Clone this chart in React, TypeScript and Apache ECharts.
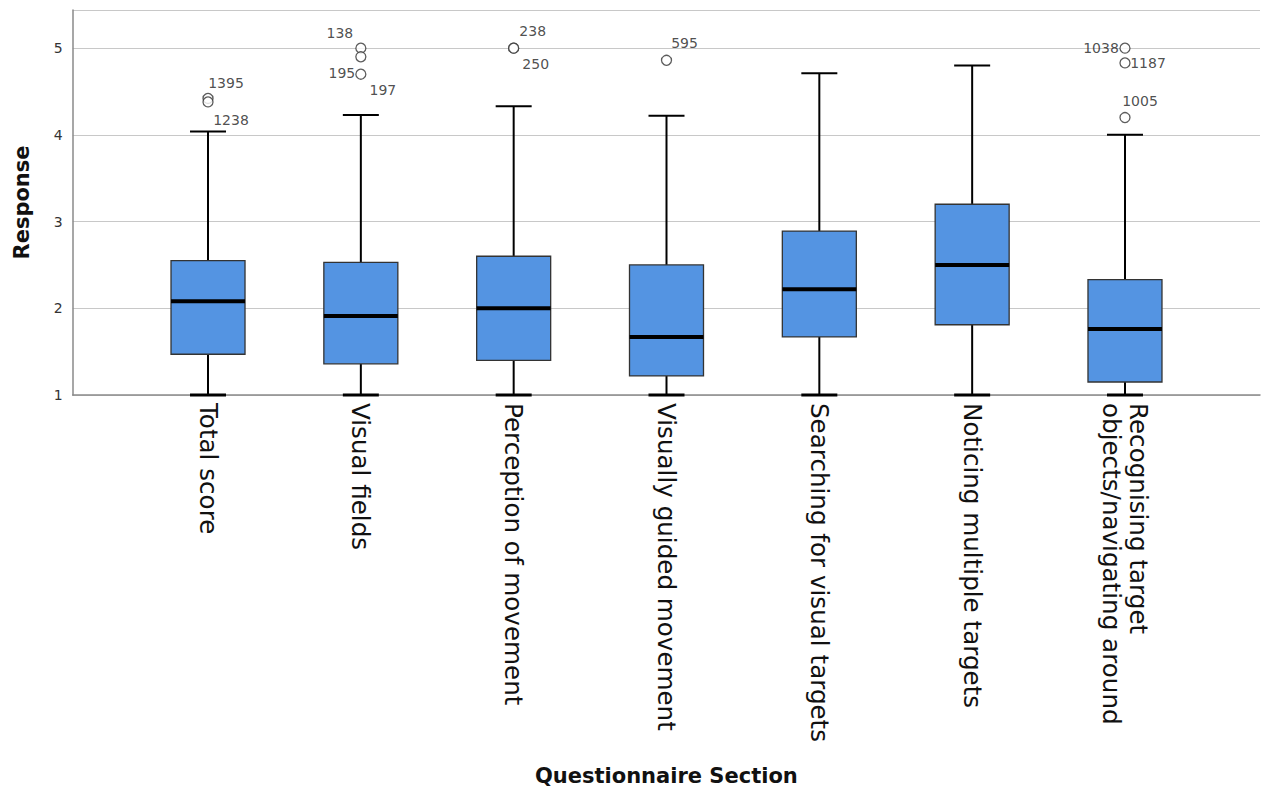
import React, { useEffect, useRef } from "react";
import * as echarts from "echarts";

const categories = [
  "Total score",
  "Visual fields",
  "Perception of movement",
  "Visually guided movement",
  "Searching for visual targets",
  "Noticing multiple targets",
  "Recognising target\nobjects/navigating around",
];
const whiskerLow = [1, 1, 1, 1, 1, 1, 1];
const q1 = [1.47, 1.36, 1.4, 1.22, 1.67, 1.81, 1.15];
const median = [2.08, 1.91, 2.0, 1.67, 2.22, 2.5, 1.76];
const q3 = [2.55, 2.53, 2.6, 2.5, 2.89, 3.2, 2.33];
const whiskerHigh = [4.04, 4.23, 4.33, 4.22, 4.71, 4.8, 4.0];

const outlierCategory = [0, 0, 1, 1, 1, 2, 2, 3, 6, 6, 6];
const outlierValue = [4.42, 4.38, 5.0, 4.9, 4.7, 5.0, 5.0, 4.86, 5.0, 4.83, 4.2];
const outlierId = ["1395", "1238", "138", "197", "195", "238", "250", "595", "1038", "1187", "1005"];
const outlierLabelOffset = [
  [18, -15], [23, 18], [-21, -15], [22, 33], [-19, -1], [19, -17], [22, 16], [18, -17], [-24, 0], [23, 0], [15, -17],
];

const yTickValues = [1, 2, 3, 4, 5];
const yMin = 1;
const yMax = 5.44;

export default function App() {
  const ref = useRef<HTMLDivElement>(null);
  useEffect(() => {
    if (!ref.current) return;
    const chart = echarts.init(ref.current, null, { renderer: "svg" });
    const boxData = categories.map((_, i) => [i, whiskerLow[i], q1[i], median[i], q3[i], whiskerHigh[i]]);
    const outData = outlierValue.map((v, i) => ({
      value: [outlierCategory[i], v],
      label: { formatter: outlierId[i], offset: outlierLabelOffset[i] },
    }));
    const option: any = {
      animation: false,
      backgroundColor: "#ffffff",
      grid: [
        { left: 72.7, right: 7, top: 10, bottom: 395 },
        { left: 131.6, right: 65.6, top: 10, bottom: 395 },
      ],
      xAxis: [
        {
          type: "value",
          gridIndex: 0,
          min: 0,
          max: 1,
          axisLine: { show: true, lineStyle: { color: "#8a8a8a", width: 1.5 } },
          axisTick: { show: false },
          axisLabel: { show: false },
          splitLine: { show: false },
          name: "Questionnaire Section",
          nameLocation: "middle",
          nameGap: 370,
          nameTextStyle: { fontSize: 21, fontWeight: "bold", color: "#111", fontFamily: "DejaVu Sans" },
        },
        {
          type: "category",
          gridIndex: 1,
          data: categories,
          axisLine: { show: false },
          axisTick: { show: false },
          axisLabel: {
            interval: 0,
            rotate: -90,
            fontSize: 24.6,
            lineHeight: 27,
            margin: 8,
            color: "#111",
            fontFamily: "DejaVu Sans",
          },
        },
      ],
      yAxis: [
        {
          type: "value",
          gridIndex: 0,
          min: yMin,
          max: yMax,
          interval: 1,
          axisLine: { show: true, lineStyle: { color: "#8a8a8a", width: 1.5 } },
          axisTick: { show: false },
          axisLabel: {
            fontSize: 14,
            color: "#333",
            margin: 10,
            fontFamily: "DejaVu Sans",
            formatter: (v: number) => (yTickValues.includes(v) ? String(v) : ""),
          },
          splitLine: { show: true, lineStyle: { color: "#c8c8c8", width: 1.2 } },
          name: "Response",
          nameLocation: "middle",
          nameGap: 40,
          nameTextStyle: { fontSize: 21, fontWeight: "bold", color: "#111", fontFamily: "DejaVu Sans" },
        },
        {
          type: "value",
          gridIndex: 1,
          min: yMin,
          max: yMax,
          show: false,
        },
      ],
      series: [
        {
          type: "custom",
          xAxisIndex: 1,
          yAxisIndex: 1,
          data: boxData,
          renderItem: (params: any, api: any) => {
            const idx = api.value(0);
            const pLow = api.coord([idx, api.value(1)]);
            const pQ1 = api.coord([idx, api.value(2)]);
            const pMed = api.coord([idx, api.value(3)]);
            const pQ3 = api.coord([idx, api.value(4)]);
            const pHigh = api.coord([idx, api.value(5)]);
            const cx = pLow[0];
            const halfBox = 37;
            const halfCap = 18;
            const black = { stroke: "#000", lineWidth: 2 };
            return {
              type: "group",
              children: [
                { type: "line", shape: { x1: cx, y1: pHigh[1], x2: cx, y2: pQ3[1] }, style: black },
                { type: "line", shape: { x1: cx, y1: pQ1[1], x2: cx, y2: pLow[1] }, style: black },
                { type: "line", shape: { x1: cx - halfCap, y1: pHigh[1], x2: cx + halfCap, y2: pHigh[1] }, style: black },
                { type: "line", shape: { x1: cx - halfCap, y1: pLow[1], x2: cx + halfCap, y2: pLow[1] }, style: { stroke: "#000", lineWidth: 3 } },
                {
                  type: "rect",
                  shape: { x: cx - halfBox, y: pQ3[1], width: halfBox * 2, height: pQ1[1] - pQ3[1] },
                  style: { fill: "#5494e2", stroke: "#333", lineWidth: 1.3 },
                },
                { type: "line", shape: { x1: cx - halfBox, y1: pMed[1], x2: cx + halfBox, y2: pMed[1] }, style: { stroke: "#000", lineWidth: 4 } },
              ],
            };
          },
        },
        {
          type: "scatter",
          xAxisIndex: 1,
          yAxisIndex: 1,
          symbol: "circle",
          symbolSize: 10,
          itemStyle: { color: "#ffffff", borderColor: "#333", borderWidth: 1.3 },
          label: {
            show: true,
            position: "inside",
            fontSize: 14,
            color: "#222",
            fontFamily: "DejaVu Sans",
          },
          data: outData,
          z: 5,
        },
      ],
    };
    chart.setOption(option);
    return () => chart.dispose();
  }, []);
  return <div ref={ref} style={{ position: "fixed", left: 0, top: 0, width: 1267, height: 790 }} />;
}
